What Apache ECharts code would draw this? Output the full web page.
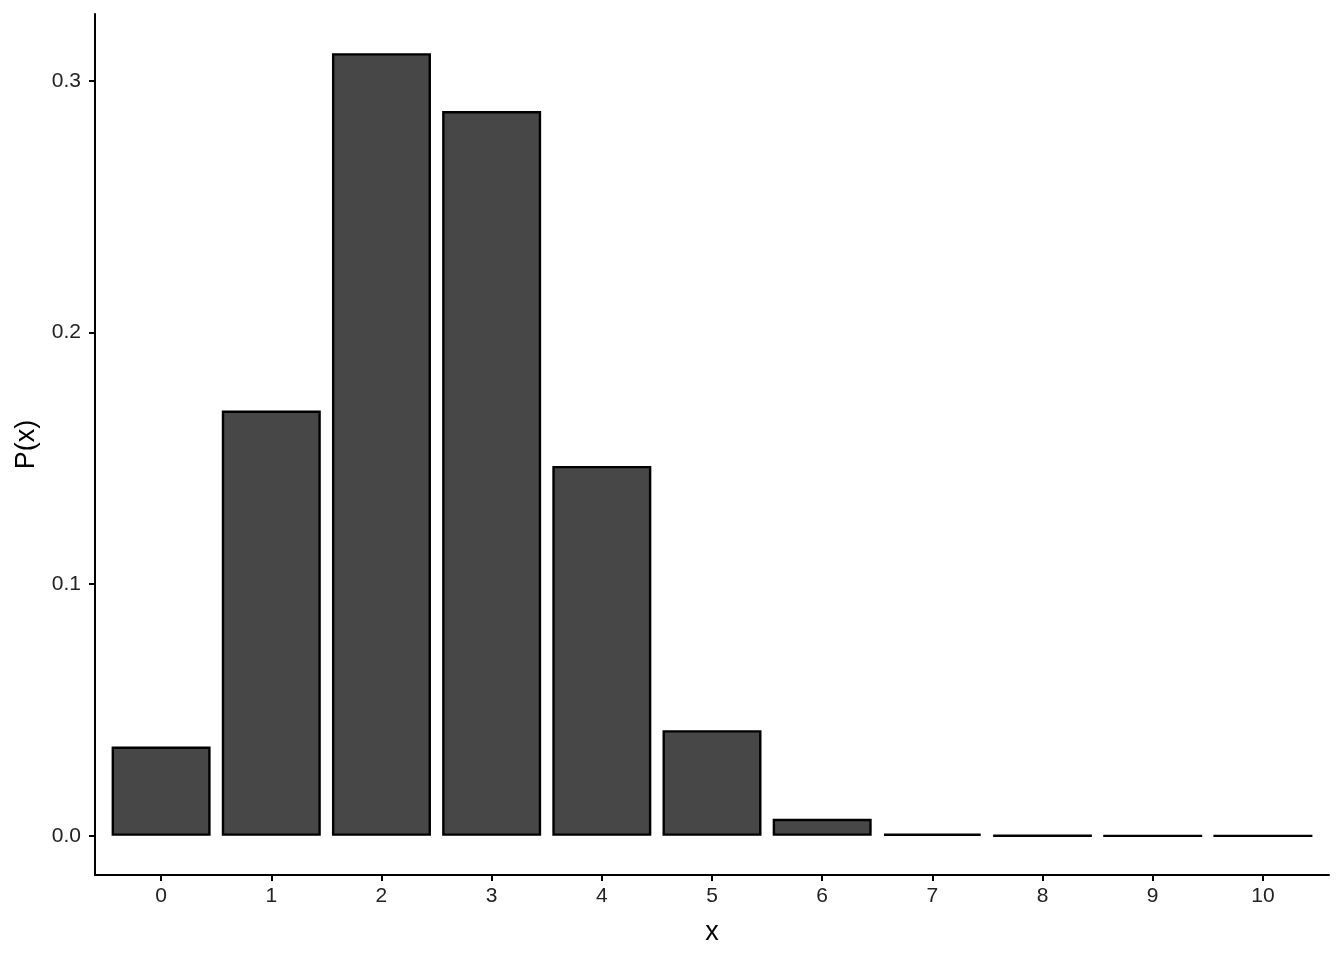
<!DOCTYPE html>
<html lang="en">
<head>
    <meta charset="UTF-8">
    <title>P(x)</title>
    <script type="text/javascript" src="https://cdn.jsdelivr.net/npm/echarts@6/dist/echarts.min.js"></script>
    <style>
        html, body { margin: 0; padding: 0; background: #fff; }
        #chart { width: 1344px; height: 960px; }
    </style>
</head>
<body>
<div id="chart"></div>
<script type="text/javascript">
// values
var xs = [0, 1, 2, 3, 4, 5, 6, 7, 8, 9, 10];
var px = [0.0355, 0.169, 0.311, 0.288, 0.147, 0.042, 0.0068, 0.0009, 0.0001, 0.00001, 0.000001];
var yTicks = [0, 0.1, 0.2, 0.3];

var chart = echarts.init(document.getElementById('chart'));

var data = [];
for (var i = 0; i < xs.length; i++) {
    data.push([xs[i], px[i]]);
}

// ggplot style expansion: 0.6 on discrete axis, 5% on continuous
var ymax = Math.max.apply(null, px);
var labelStyle = { color: '#222', fontSize: 21, fontFamily: 'Liberation Sans' };
var option = {
    animation: false,
    grid: { left: 95, right: 15, top: 14, bottom: 85 },
    xAxis: {
        type: 'value',
        min: -0.6,
        max: xs.length - 1 + 0.6,
        name: 'x',
        nameLocation: 'middle',
        nameGap: 44,
        nameTextStyle: { fontSize: 27, color: '#000', fontFamily: 'Liberation Sans' },
        splitLine: { show: false },
        axisLine: { onZero: false, lineStyle: { color: '#000', width: 2 } },
        axisTick: { show: true, length: 6, lineStyle: { color: '#000', width: 2 }, customValues: xs },
        axisLabel: {
            color: labelStyle.color, fontSize: labelStyle.fontSize, fontFamily: labelStyle.fontFamily,
            margin: 11, customValues: xs
        }
    },
    yAxis: {
        type: 'value',
        min: -0.05 * ymax,
        max: ymax * 1.05,
        name: 'P(x)',
        nameLocation: 'middle',
        nameGap: 55,
        nameTextStyle: { fontSize: 27, color: '#000', fontFamily: 'Liberation Sans' },
        splitLine: { show: false },
        axisLine: { show: true, onZero: false, lineStyle: { color: '#000', width: 2 } },
        axisTick: { show: true, length: 6, lineStyle: { color: '#000', width: 2 }, customValues: yTicks },
        axisLabel: {
            color: labelStyle.color, fontSize: labelStyle.fontSize, fontFamily: labelStyle.fontFamily,
            margin: 14, customValues: yTicks,
            formatter: function (v) { return v.toFixed(1); }
        }
    },
    series: [{
        type: 'bar',
        data: data,
        barWidth: 99,
        itemStyle: { color: '#474747', borderColor: '#000', borderWidth: 2.4 }
    }]
};
chart.setOption(option);
</script>
</body>
</html>
